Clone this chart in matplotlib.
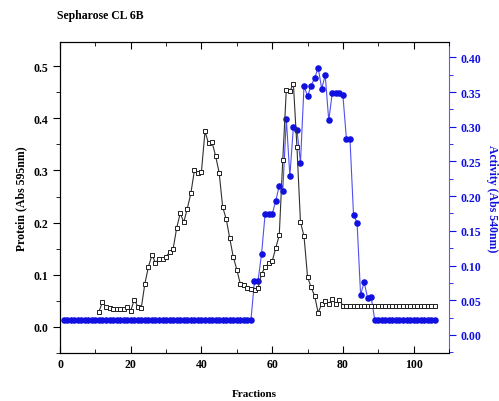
import numpy as np
import matplotlib.pyplot as plt
from matplotlib.ticker import MultipleLocator

# Proteína (Abs 595nm), fracciones 11 a 106
frac_prot = np.arange(11, 107)
prot_ini = [0.029, 0.048, 0.038, 0.036, 0.035, 0.034, 0.034, 0.035, 0.038, 0.031,
            0.052, 0.039, 0.037, 0.083, 0.115, 0.138, 0.123, 0.130, 0.130, 0.135,
            0.143, 0.150, 0.190, 0.218, 0.201, 0.227, 0.256, 0.300, 0.296, 0.298,
            0.375, 0.352, 0.354, 0.328, 0.296, 0.230, 0.207, 0.170, 0.134, 0.110,
            0.082, 0.080, 0.074, 0.072, 0.071, 0.074, 0.102, 0.114, 0.122, 0.126,
            0.151, 0.176, 0.321, 0.455, 0.452, 0.466, 0.345, 0.201, 0.174, 0.096,
            0.076, 0.060, 0.027, 0.044, 0.049, 0.044, 0.053, 0.044, 0.052]
proteina = prot_ini + [0.041] * (len(frac_prot) - len(prot_ini))

# Actividad (Abs 540nm), fracciones 1 a 106
frac_act = np.arange(1, 107)
act_pico = [0.078, 0.078, 0.117, 0.174, 0.174, 0.174, 0.193, 0.215, 0.208, 0.311,
            0.229, 0.300, 0.296, 0.248, 0.359, 0.344, 0.359, 0.370, 0.385, 0.355,
            0.374, 0.309, 0.349, 0.348, 0.349, 0.345, 0.282, 0.282, 0.173, 0.162,
            0.058, 0.076, 0.053, 0.054]
actividad = [0.022] * 54 + act_pico
actividad = actividad + [0.022] * (len(frac_act) - len(actividad))

azul = '#1010e0'
plt.rcParams['font.family'] = ['Liberation Serif', 'DejaVu Serif']
plt.rcParams['font.weight'] = 'bold'

fig = plt.figure(figsize=(4.99, 4.02), dpi=100)
ax = fig.add_axes([60/499, 48/402, 389/499, 311.3/402])
ax2 = ax.twinx()

ax.plot(frac_prot, proteina, color='#303030', lw=0.8, marker='s', ms=3.1,
        mfc='white', mec='#202020', mew=0.7, zorder=3)
ax2.plot(frac_act, actividad, color='#5050f0', lw=0.8, marker='o', ms=3.7,
         mfc=azul, mec=azul, zorder=2)
ax.set_zorder(ax2.get_zorder() + 1)
ax.patch.set_visible(False)

ax.set_xlim(0, 110)
ax.set_ylim(-0.05, 0.547)
ax2.set_ylim(-0.026, 0.4225)

ax.xaxis.set_major_locator(MultipleLocator(20))
ax.xaxis.set_minor_locator(MultipleLocator(10))
ax.yaxis.set_major_locator(MultipleLocator(0.1))
ax.yaxis.set_minor_locator(MultipleLocator(0.05))
ax2.yaxis.set_major_locator(MultipleLocator(0.05))
ax2.yaxis.set_minor_locator(MultipleLocator(0.025))

ax.tick_params(axis='x', which='both', direction='in', top=True, labelsize=8.5)
ax.tick_params(axis='x', which='major', length=5)
ax.tick_params(axis='x', which='minor', length=3)
ax.tick_params(axis='y', which='major', direction='out', length=5, labelsize=8.5)
ax.tick_params(axis='y', which='minor', direction='out', length=3)
ax2.tick_params(axis='y', which='major', direction='out', length=5, labelsize=8.5,
                colors=azul)
ax2.tick_params(axis='y', which='minor', direction='out', length=3, colors=azul)
ax2.set_yticks(np.arange(0, 0.41, 0.05))
ax2.set_yticklabels(['%.2f' % v for v in np.arange(0, 0.41, 0.05)])
ax2.spines['right'].set_color('#6060d0')
ax.spines['right'].set_visible(False)

ax.set_xlabel('Fractions', fontsize=8, fontweight='bold', labelpad=14)
ax.set_ylabel('Protein (Abs 595nm)', fontsize=8.5, fontweight='bold')
ax2.set_ylabel('Activity (Abs 540nm)', fontsize=8.5, fontweight='bold', color=azul,
               rotation=270, labelpad=12)

fig.text(57/499, 1 - 16/402, 'Sepharose CL 6B', fontsize=8.5, fontweight='bold',
         ha='left', va='center')

fig.savefig('out.png', dpi=100)
